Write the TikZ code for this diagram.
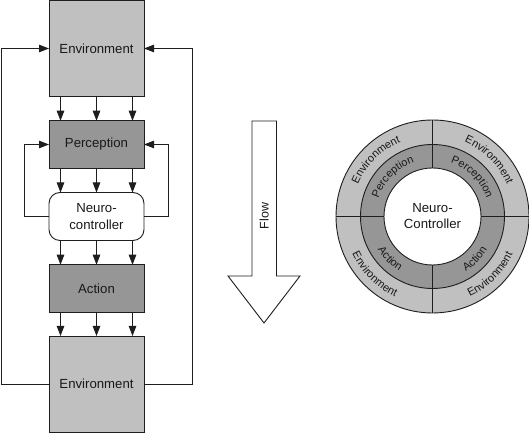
\documentclass[tikz,border=0pt]{standalone}
\usepackage{fontspec}
\setmainfont{Liberation Sans}
\usetikzlibrary{arrows.meta,calc,decorations.text}
\definecolor{envgray}{RGB}{192,192,192}
\definecolor{procgray}{RGB}{150,150,150}
\definecolor{linecol}{RGB}{30,30,30}
\tikzset{
  boxbase/.style={draw=linecol, line width=0.9pt, inner sep=0pt, outer sep=0pt,
    minimum width=95pt, align=center, text=black!90,
    font=\fontsize{13.2}{16.5}\selectfont},
  envbox/.style={boxbase, fill=envgray, minimum height=96pt},
  procbox/.style={boxbase, fill=procgray, minimum height=47.5pt},
  ctrlbox/.style={boxbase, fill=white, rounded corners=11pt, minimum height=48pt},
  arr/.style={draw=linecol, line width=0.9pt, -{Triangle[length=10pt,width=7.5pt]}},
  conn/.style={draw=linecol, line width=0.9pt},
  arctext/.style={decorate, decoration={text along path, text align=center,
    text color=black!90, text={|\fontsize{11}{13}\selectfont|#1}}},
}
\begin{document}
\begin{tikzpicture}[x=1pt,y=1pt]
\useasboundingbox (0,0) rectangle (529,433);
% left column
\node[envbox]  (env1)  at (96.5,384.5) {Environment};
\node[procbox] (perc)  at (96.5,288.5) {Perception};
\node[ctrlbox] (neuro) at (96.5,216.5) {Neuro-\\controller};
\node[procbox] (act)   at (96.5,144.5) {Action};
\node[envbox]  (env2)  at (96.5,49)    {Environment};
\foreach \dx in {-36,0,36}{
  \draw[arr] ([xshift=\dx pt]env1.south)  -- ([xshift=\dx pt]perc.north);
  \draw[arr] ([xshift=\dx pt]perc.south)  -- ([xshift=\dx pt]neuro.north);
  \draw[arr] ([xshift=\dx pt]neuro.south) -- ([xshift=\dx pt]act.north);
  \draw[arr] ([xshift=\dx pt]act.south)   -- ([xshift=\dx pt]env2.north);
}
\draw[arr] (env2.west) -- ++(-48,0) |- (env1.west);
\draw[arr] (env2.east) -- ++(48,0) |- (env1.east);
\draw[arr] (neuro.west) -- ++(-25,0) |- (perc.west);
\draw[arr] (neuro.east) -- ++(24,0) |- (perc.east);
% flow arrow
\draw[conn, fill=white] (252,312) -- (276.5,312) -- (276.5,157) -- (300,157)
  -- (264,110) -- (228,157) -- (252,157) -- cycle;
\node[rotate=90, text=black!90, font=\fontsize{12.5}{15}\selectfont] (flow) at (264.2,217) {Flow};
% circle
\coordinate (C) at (432.5,216.5);
\fill[envgray] (C) circle[radius=96.5];
\fill[procgray] (C) circle[radius=72];
\fill[white] (C) circle[radius=48.5];
\draw[conn] (C) circle[radius=96.5];
\draw[conn] (C) circle[radius=72];
\draw[conn] (C) circle[radius=48.5];
\foreach \a in {0,90,180,270}{
  \draw[conn] ($(C)+(\a:48.5)$) -- ($(C)+(\a:96.5)$);
}
% ring labels (curved along the rings)
\path[arctext=Environment] ($(C)+(180:81)$) arc[start angle=180, end angle=90, radius=81];
\path[arctext=Environment] ($(C)+(90:81)$)  arc[start angle=90,  end angle=0,  radius=81];
\path[arctext=Environment] ($(C)+(180:88.5)$) arc[start angle=180, end angle=270, radius=88.5];
\path[arctext=Environment] ($(C)+(270:88.5)$) arc[start angle=270, end angle=360, radius=88.5];
\path[arctext=Perception] ($(C)+(180:57)$) arc[start angle=180, end angle=90, radius=57];
\path[arctext=Perception] ($(C)+(90:57)$)  arc[start angle=90,  end angle=0,  radius=57];
\path[arctext=Action] ($(C)+(180:64)$) arc[start angle=180, end angle=270, radius=64];
\path[arctext=Action] ($(C)+(270:64)$) arc[start angle=270, end angle=360, radius=64];
\node[align=center, text=black!90, font=\fontsize{13.2}{16.5}\selectfont] (nc) at ($(C)+(0,0.5)$) {Neuro-\\Controller};
\end{tikzpicture}
\end{document}
